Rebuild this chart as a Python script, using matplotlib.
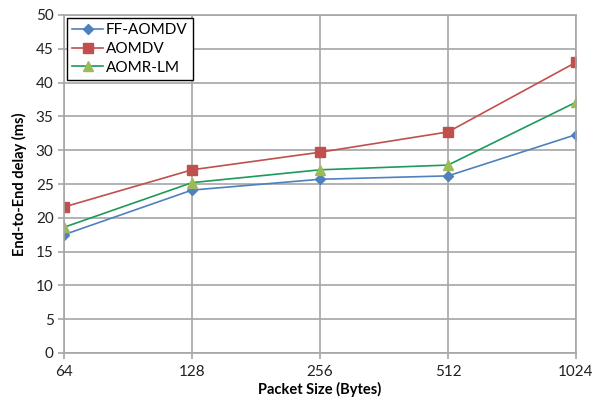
import matplotlib
matplotlib.use("Agg")
import matplotlib.pyplot as plt

categories = ["64", "128", "256", "512", "1024"]
ff_aomdv = [17.5, 24.1, 25.7, 26.2, 32.3]
aomdv = [21.6, 27.1, 29.7, 32.7, 43.0]
aomr_lm = [18.6, 25.2, 27.1, 27.8, 37.1]

plt.rcParams['font.family'] = ['Lato', 'DejaVu Sans']

fig = plt.figure(figsize=(6.0, 3.98), dpi=100)
ax = fig.add_axes([64/600, 1-353/398, (576-64)/600, (353-15)/398])

x = list(range(len(categories)))
ax.plot(x, ff_aomdv, color="#4F81BD", marker="D", markersize=5, lw=1.2, label="FF-AOMDV")
ax.plot(x, aomdv, color="#C0504D", marker="s", markersize=7, lw=1.2, label="AOMDV")
ax.plot(x, aomr_lm, color="#1E9A5A", marker="^", markersize=7, lw=1.2,
        markerfacecolor="#9BBB59", markeredgecolor="#9BBB59", label="AOMR-LM")

ax.set_xlim(0, 4)
ax.set_ylim(0, 50)
ax.set_yticks(range(0, 51, 5))
ax.set_xticks(x)
ax.set_xticklabels(categories)
ax.grid(True, color="#A6A6A6", lw=1.2)
ax.set_axisbelow(True)
for s in ax.spines.values():
    s.set_color("#A6A6A6")
    s.set_linewidth(1.2)
ax.tick_params(axis='both', colors="#A6A6A6", labelcolor="#222222", labelsize=11, length=4, width=1.2)
ax.tick_params(axis='x', pad=5)
ax.set_xlabel("Packet Size (Bytes)", fontweight="bold", fontsize=10.5, labelpad=2)
ax.set_ylabel("End-to-End delay (ms)", fontweight="bold", fontsize=10.5, labelpad=6)

leg = ax.legend(loc="upper left", bbox_to_anchor=(0.0, 1.0), fontsize=11, fancybox=False,
                framealpha=1, edgecolor="black", borderaxespad=0.2, handlelength=2.0,
                handletextpad=0.2, labelspacing=0.3, borderpad=0.35)
leg.get_frame().set_linewidth(1.0)

fig.savefig("out.png", dpi=100)
